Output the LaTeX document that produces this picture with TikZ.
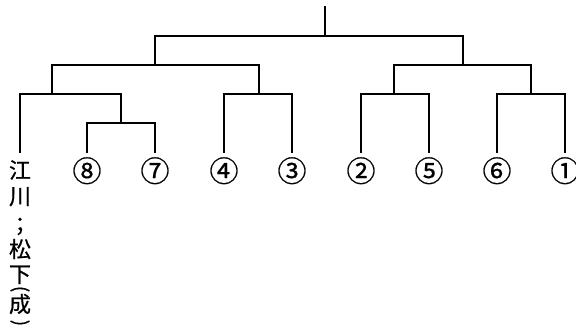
\documentclass[tikz,border=0pt]{standalone}
\usepackage{fontspec}
\newfontfamily\cjk{Noto Sans CJK JP}[FakeBold=0.6]
\usepackage{tikz}

\begin{document}
\begin{tikzpicture}[
  x=1pt,y=-1pt,
  leaf/.style={anchor=north,inner xsep=0pt,inner ysep=5pt,font=\cjk\fontsize{29}{29}\selectfont},
  vname/.style={anchor=north,inner xsep=0pt,inner ysep=8pt,align=center,font=\cjk\fontsize{22}{26}\selectfont},
  vchar/.style={inner sep=0pt,font=\cjk\fontsize{22}{26}\selectfont},
  vparen/.style={inner sep=0pt,rotate=-90,font=\cjk\fontsize{19}{19}\selectfont},
  line/.style={line width=1.8pt,line cap=rect}
]
\useasboundingbox (0,0) rectangle (576,327);

% vertical name: Ekawa ; Matsushita (sei)
\node[vname] (ekawa) at (20,152) {江\\川\\[2.5pt]；\\[-1.5pt]松\\[-1pt]下};
\node[vparen] (popen) at (20,289) {(};
\node[vchar] (sei) at (20,304) {成};
\node[vparen] (pclose) at (20,323) {)};

\node[leaf] (n8) at (87,152) {⑧};
\node[leaf] (n7) at (155,152) {⑦};
\node[leaf] (n4) at (224,152) {④};
\node[leaf] (n3) at (292,152) {③};
\node[leaf] (n2) at (361,152) {②};
\node[leaf] (n5) at (429,152) {⑤};
\node[leaf] (n6) at (497,152) {⑥};
\node[leaf] (n1) at (565,152) {①};

\coordinate (top) at (325,7);
\coordinate (root) at (325,36);
\coordinate (left) at (155,65);
\coordinate (right) at (463,65);
\coordinate (j78) at (121,123);
\coordinate (je) at (52,94);
\coordinate (j43) at (259,94);
\coordinate (j25) at (394,94);
\coordinate (j61) at (531,94);

\draw[line] (top) -- (root);
\draw[line] (left) |- (root) -| (right);
\draw[line] (je) |- (left) -| (j43);
\draw[line] (j25) |- (right) -| (j61);
\draw[line] (ekawa.north) |- (je) -| (j78);
\draw[line] (n8.north) |- (j78) -| (n7.north);
\draw[line] (n4.north) |- (j43) -| (n3.north);
\draw[line] (n2.north) |- (j25) -| (n5.north);
\draw[line] (n6.north) |- (j61) -| (n1.north);

\end{tikzpicture}
\end{document}
